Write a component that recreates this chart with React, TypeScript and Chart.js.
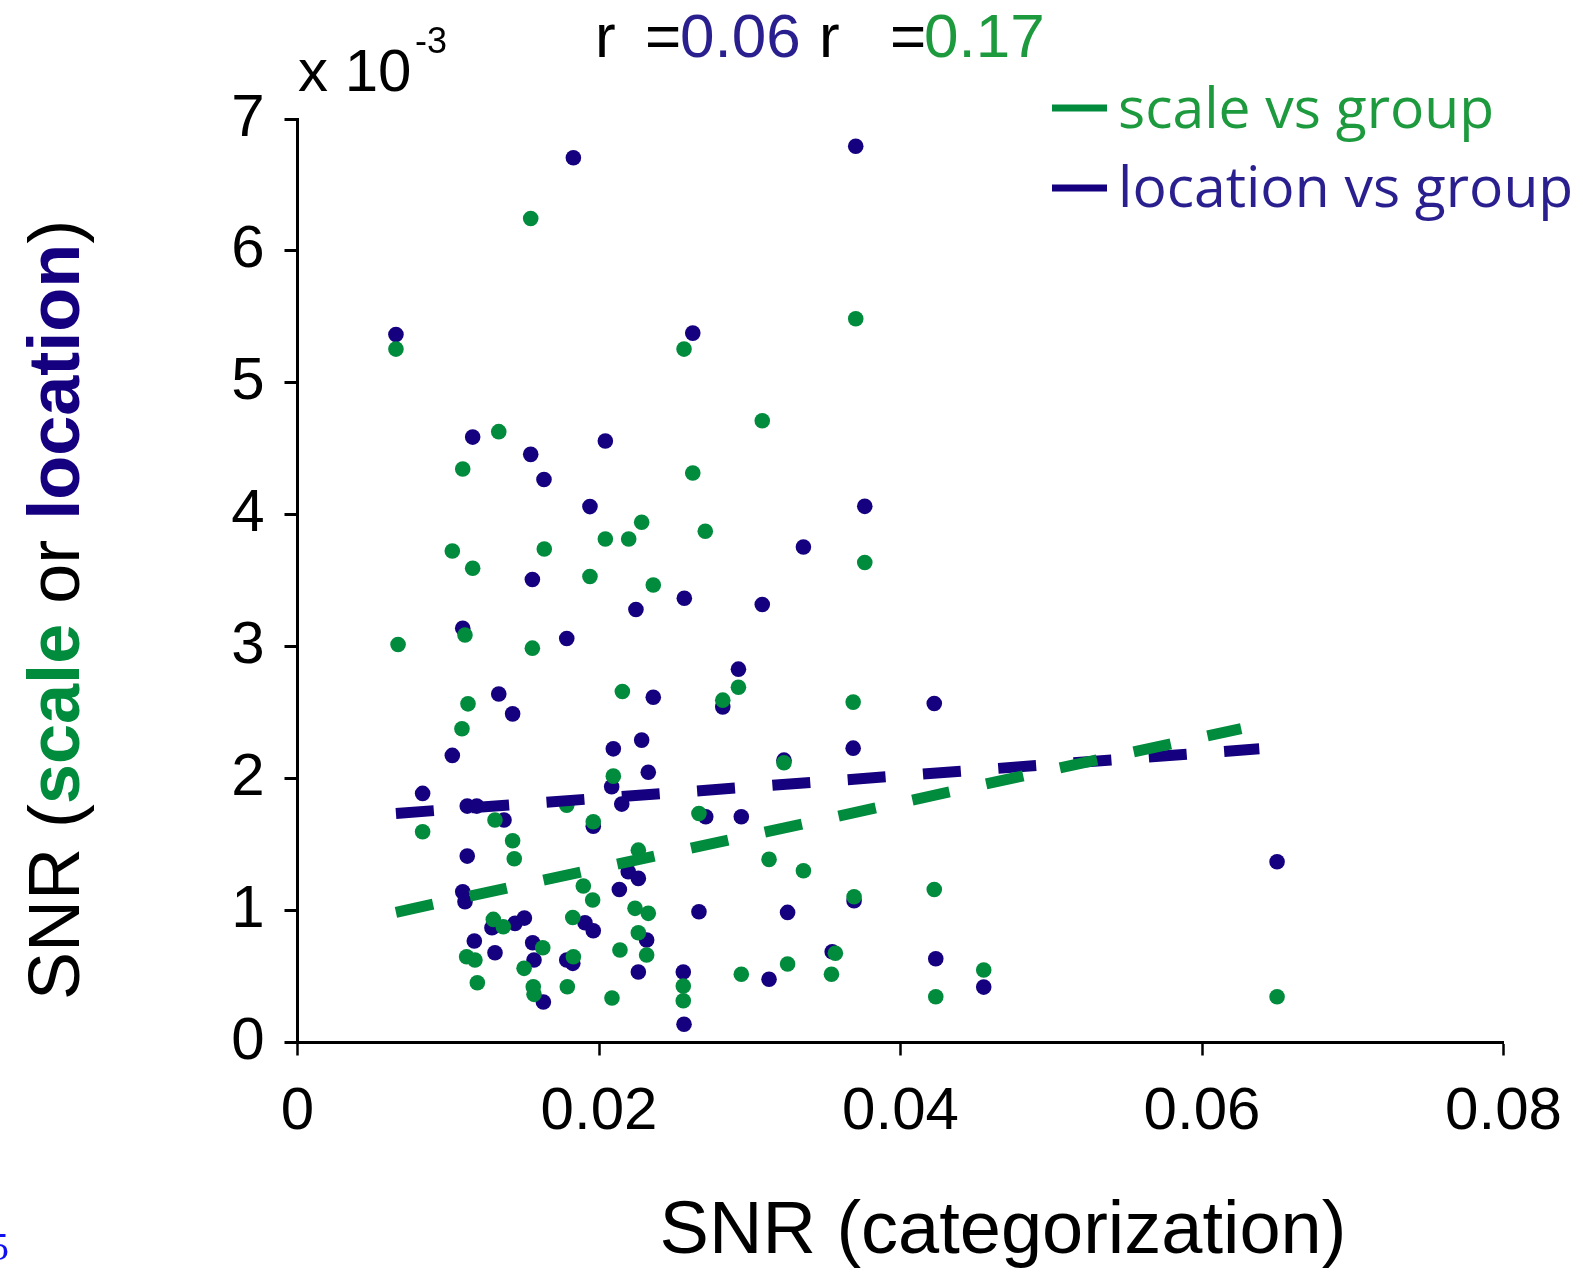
import React, { useEffect, useRef } from "react";
import { Chart, registerables } from "chart.js";

Chart.register(...registerables);

// ---------------- data ----------------
const xTickValues = [0, 0.02, 0.04, 0.06, 0.08];
const xTickLabels = ["0", "0.02", "0.04", "0.06", "0.08"];
const yTickValues = [0, 1, 2, 3, 4, 5, 6, 7];
const yTickLabels = ["0", "1", "2", "3", "4", "5", "6", "7"];

// location vs group (SNR x 10^-3)
const locationPoints: [number, number][] = [
  [0.00653, 5.367], [0.0183, 6.706], [0.03703, 6.794], [0.02622, 5.377],
  [0.01162, 4.589], [0.01547, 4.458], [0.01635, 4.267], [0.02042, 4.559],
  [0.0194, 4.062], [0.03763, 4.064], [0.03356, 3.756], [0.01558, 3.509],
  [0.02245, 3.282], [0.02566, 3.367], [0.03083, 3.32], [0.01096, 3.14],
  [0.01786, 3.062], [0.01335, 2.642], [0.01427, 2.491], [0.0236, 2.617],
  [0.02925, 2.83], [0.02821, 2.544], [0.04224, 2.57], [0.03686, 2.231],
  [0.03227, 2.14], [0.01027, 2.176], [0.02095, 2.226], [0.02283, 2.292],
  [0.02327, 2.049], [0.0083, 1.888], [0.02084, 1.938], [0.01126, 1.792],
  [0.01189, 1.792], [0.0137, 1.686], [0.01126, 1.413], [0.01096, 1.143],
  [0.01111, 1.067], [0.0129, 0.87], [0.01443, 0.903], [0.01505, 0.943],
  [0.01173, 0.769], [0.0131, 0.68], [0.0156, 0.756], [0.01569, 0.625],
  [0.01631, 0.307], [0.01962, 1.64], [0.02151, 1.807], [0.02194, 1.294],
  [0.02261, 1.244], [0.02135, 1.16], [0.02316, 0.777], [0.02261, 0.534],
  [0.01907, 0.908], [0.01962, 0.847], [0.01786, 0.625], [0.01826, 0.6],
  [0.02559, 0.534], [0.02564, 0.138], [0.02663, 0.991], [0.02708, 1.711],
  [0.02944, 1.711], [0.03692, 1.074], [0.03251, 0.986], [0.03547, 0.688],
  [0.03128, 0.479], [0.04234, 0.635], [0.04552, 0.42], [0.06498, 1.37],
];

// scale vs group (SNR x 10^-3)
const scalePoints: [number, number][] = [
  [0.01547, 6.246], [0.00653, 5.256], [0.02564, 5.256], [0.01335, 4.63],
  [0.01096, 4.347], [0.02622, 4.317], [0.03703, 5.486], [0.03083, 4.713],
  [0.02283, 3.943], [0.02042, 3.817], [0.02197, 3.817], [0.01027, 3.726],
  [0.01637, 3.741], [0.01162, 3.595], [0.0194, 3.532], [0.0236, 3.468],
  [0.02705, 3.875], [0.03763, 3.638], [0.01111, 3.089], [0.00667, 3.017],
  [0.01558, 2.989], [0.02155, 2.661], [0.01131, 2.567], [0.01091, 2.378],
  [0.02095, 2.019], [0.02925, 2.693], [0.02821, 2.595], [0.03686, 2.58],
  [0.03227, 2.12], [0.0131, 1.686], [0.0083, 1.597], [0.01427, 1.529],
  [0.01438, 1.393], [0.01786, 1.799], [0.01962, 1.673], [0.02663, 1.736],
  [0.02261, 1.458], [0.01299, 0.933], [0.01365, 0.877], [0.01122, 0.65],
  [0.01177, 0.625], [0.01193, 0.453], [0.01627, 0.718], [0.01503, 0.562],
  [0.01564, 0.423], [0.01569, 0.365], [0.01896, 1.186], [0.01958, 1.08],
  [0.01826, 0.948], [0.0183, 0.65], [0.0179, 0.423], [0.02239, 1.017],
  [0.02327, 0.979], [0.02261, 0.832], [0.02316, 0.663], [0.02139, 0.701],
  [0.02086, 0.337], [0.02559, 0.428], [0.02559, 0.317], [0.03128, 1.388],
  [0.03356, 1.302], [0.03692, 1.105], [0.04224, 1.16], [0.03568, 0.676],
  [0.03542, 0.517], [0.03251, 0.595], [0.02944, 0.517], [0.04234, 0.347],
  [0.04552, 0.549], [0.06498, 0.347],
];

// fitted trend lines (end points)
const locationFit: [number, number][] = [[0.00653, 1.736], [0.0638, 2.226]];
const scaleFit: [number, number][] = [[0.00653, 0.987], [0.0626, 2.38]];

const rLocation = "0.06";
const rScale = "0.17";
const legendLabels = ["scale vs group", "location vs group"];

// ---------------- style ----------------
const GREEN = "#008b3d";
const GREEN_TEXT = "#1d9a3e";
const NAVY = "#15007f";
const NAVY_TEXT = "#2a1f8e";
const SANS = '"Liberation Sans", Arial, sans-serif';
const LEGEND_FONT = '"Open Sans", "Liberation Sans", sans-serif';
const W = 1583;
const H = 1276;

const toXY = (arr: [number, number][]) => arr.map(([x, y]) => ({ x, y }));

const textPlugin = {
  id: "annotations",
  beforeDraw(chart: any) {
    const ctx = chart.ctx;
    ctx.save();
    ctx.fillStyle = "#ffffff";
    ctx.fillRect(0, 0, chart.width, chart.height);
    ctx.restore();
  },
  afterDraw(chart: any) {
    const ctx = chart.ctx as CanvasRenderingContext2D;
    ctx.save();
    ctx.textBaseline = "alphabetic";
    ctx.textAlign = "left";

    // x 10^-3
    ctx.fillStyle = "#000";
    ctx.font = `60px ${SANS}`;
    ctx.fillText("x 10", 298, 91);
    ctx.font = `36px ${SANS}`;
    ctx.fillText("-3", 415, 53);

    // correlation text
    ctx.font = `62px ${SANS}`;
    ctx.fillStyle = "#000";
    ctx.fillText("r", 595, 57);
    ctx.fillText("=", 645, 57);
    ctx.fillStyle = NAVY_TEXT;
    ctx.fillText(rLocation, 680, 57);
    ctx.fillStyle = "#000";
    ctx.fillText("r", 819, 57);
    ctx.fillText("=", 890, 57);
    ctx.fillStyle = GREEN_TEXT;
    ctx.fillText(rScale, 924, 57);

    // legend
    ctx.fillStyle = GREEN;
    ctx.fillRect(1052, 104.5, 55, 7);
    ctx.fillStyle = NAVY;
    ctx.fillRect(1052, 184.5, 55, 7);
    ctx.font = `57px ${LEGEND_FONT}`;
    ctx.fillStyle = GREEN_TEXT;
    ctx.fillText(legendLabels[0], 1118, 128);
    ctx.fillStyle = NAVY_TEXT;
    ctx.fillText(legendLabels[1], 1118, 207);

    // y title (rotated)
    ctx.save();
    ctx.translate(79, 1000);
    ctx.rotate(-Math.PI / 2);
    const parts: [string, string, string][] = [
      ["SNR (", "normal", "#000"],
      ["scale", "bold", GREEN],
      [" or ", "normal", "#000"],
      ["location", "bold", NAVY],
      [")", "normal", "#000"],
    ];
    let px = 0;
    for (const [t, w, c] of parts) {
      ctx.font = `${w} 72px ${SANS}`;
      ctx.fillStyle = c;
      ctx.fillText(t, px, 0);
      px += ctx.measureText(t).width;
    }
    ctx.restore();

    // x title
    ctx.font = `74px ${SANS}`;
    ctx.fillStyle = "#000";
    ctx.textAlign = "center";
    ctx.fillText("SNR (categorization)", 1003, 1253);

    // stray link digit at the bottom-left edge
    ctx.textAlign = "left";
    ctx.font = `40px "Liberation Serif", serif`;
    ctx.fillStyle = "#1010f0";
    ctx.fillText("5", -11, 1260);

    ctx.restore();
  },
};

export default function App() {
  const ref = useRef<HTMLCanvasElement | null>(null);

  useEffect(() => {
    if (!ref.current) return;
    const chart = new Chart(ref.current, {
      type: "scatter",
      data: {
        datasets: [
          {
            label: "scale fit",
            data: toXY(scaleFit),
            showLine: true,
            borderColor: GREEN,
            borderWidth: 11,
            borderDash: [38, 37.5],
            borderCapStyle: "butt",
            pointRadius: 0,
            order: 0,
          } as any,
          {
            label: "location fit",
            data: toXY(locationFit),
            showLine: true,
            borderColor: NAVY,
            borderWidth: 11,
            borderDash: [38, 37.5],
            borderCapStyle: "butt",
            pointRadius: 0,
            order: 1,
          } as any,
          {
            label: legendLabels[0],
            data: toXY(scalePoints),
            backgroundColor: GREEN,
            pointBackgroundColor: GREEN,
            pointBorderWidth: 0,
            borderWidth: 0,
            pointRadius: 7.8,
            order: 2,
          } as any,
          {
            label: legendLabels[1],
            data: toXY(locationPoints),
            backgroundColor: NAVY,
            pointBackgroundColor: NAVY,
            pointBorderWidth: 0,
            borderWidth: 0,
            pointRadius: 7.8,
            order: 3,
          } as any,
        ],
      },
      options: {
        responsive: false,
        animation: false,
        devicePixelRatio: 1,
        layout: {
          autoPadding: false,
          padding: { left: 0, top: 119, right: 79.5, bottom: 0 },
        },
        plugins: {
          legend: { display: false },
          tooltip: { enabled: false },
        },
        scales: {
          x: {
            type: "linear",
            min: 0,
            max: 0.08,
            afterBuildTicks: (s: any) => {
              s.ticks = xTickValues.map((v) => ({ value: v }));
            },
            afterFit: (s: any) => {
              s.height = 233.5;
            },
            ticks: {
              autoSkip: false,
              maxRotation: 0,
              padding: 21,
              color: "#000",
              font: { family: SANS, size: 60 },
              callback: (_v: any, i: number) => xTickLabels[i],
            },
            grid: {
              display: true,
              drawOnChartArea: false,
              drawTicks: true,
              tickLength: 13,
              tickColor: "#000",
              tickWidth: 2.5,
              color: "#000",
            },
            border: { display: true, color: "#000", width: 3 },
          },
          y: {
            type: "linear",
            min: 0,
            max: 7,
            afterBuildTicks: (s: any) => {
              s.ticks = yTickValues.map((v) => ({ value: v }));
            },
            afterFit: (s: any) => {
              s.width = 297.5;
            },
            ticks: {
              autoSkip: false,
              padding: 20,
              color: "#000",
              font: { family: SANS, size: 60 },
              callback: (_v: any, i: number) => yTickLabels[i],
            },
            grid: {
              display: true,
              drawOnChartArea: false,
              drawTicks: true,
              tickLength: 13,
              tickColor: "#000",
              tickWidth: 3,
              color: "#000",
            },
            border: { display: true, color: "#000", width: 3 },
          },
        },
      },
      plugins: [textPlugin],
    });
    return () => chart.destroy();
  }, []);

  return (
    <div style={{ position: "absolute", left: 0, top: 0, width: W, height: H, background: "#fff", overflow: "hidden" }}>
      <canvas ref={ref} width={W} height={H} style={{ display: "block", width: W, height: H }} />
    </div>
  );
}
